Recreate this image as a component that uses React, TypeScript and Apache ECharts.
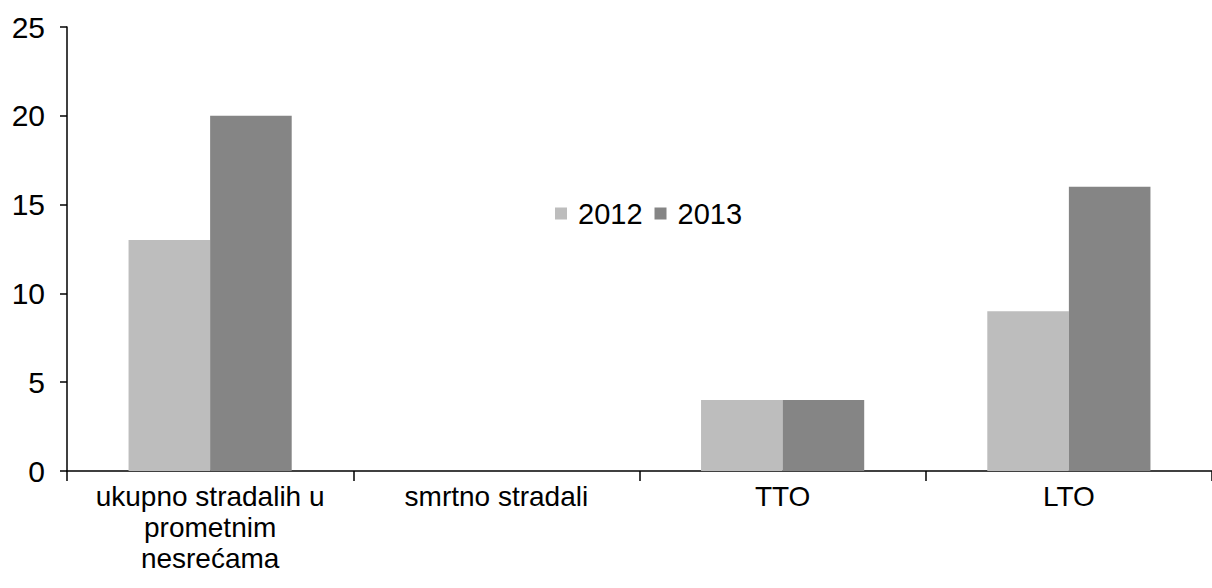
import React, { useEffect, useRef } from "react";
import * as echarts from "echarts";

const categories = ["ukupno stradalih u\nprometnim\nnesrećama", "smrtno stradali", "TTO", "LTO"];
const series2012 = [13, 0, 4, 9];
const series2013 = [20, 0, 4, 16];
const seriesNames = ["2012", "2013"];

export default function App() {
  const ref = useRef<HTMLDivElement>(null);
  useEffect(() => {
    if (!ref.current) return;
    const chart = echarts.init(ref.current, undefined, { renderer: "svg" });
    const font = "'Liberation Sans', Arial, sans-serif";
    chart.setOption({
      animation: false,
      backgroundColor: "#ffffff",
      grid: { left: 67, top: 27, width: 1157, height: 444, containLabel: false },
      legend: {
        data: seriesNames,
        left: 550,
        top: 194,
        itemWidth: 12,
        itemHeight: 12,
        itemGap: 12,
        icon: "rect",
        textStyle: { fontSize: 29, color: "#000", fontFamily: font, padding: [0, 0, 0, 6] },
      },
      xAxis: {
        type: "category",
        data: categories,
        axisLine: { lineStyle: { color: "#000", width: 1.5 } },
        axisTick: { show: true, length: 10, lineStyle: { color: "#000", width: 1.5 } },
        axisLabel: { interval: 0, fontSize: 28, lineHeight: 31, color: "#000", fontFamily: font, margin: 10 },
      },
      yAxis: {
        type: "value",
        min: 0,
        max: 25,
        interval: 5,
        axisLine: { show: true, lineStyle: { color: "#000", width: 1.5 } },
        axisTick: { show: true, length: 7, lineStyle: { color: "#000", width: 1.5 } },
        splitLine: { show: false },
        axisLabel: { fontSize: 30, color: "#000", fontFamily: font, margin: 22 },
      },
      series: [
        {
          name: seriesNames[0],
          type: "bar",
          data: series2012,
          barGap: "0%",
          barCategoryGap: "43%",
          itemStyle: { color: "#bdbdbd" },
        },
        {
          name: seriesNames[1],
          type: "bar",
          data: series2013,
          barGap: "0%",
          barCategoryGap: "43%",
          itemStyle: { color: "#858585" },
        },
      ],
    });
    return () => chart.dispose();
  }, []);
  return (
    <div
      ref={ref}
      style={{ position: "absolute", left: 0, top: 0, width: 1212, height: 588, overflow: "hidden" }}
    />
  );
}
